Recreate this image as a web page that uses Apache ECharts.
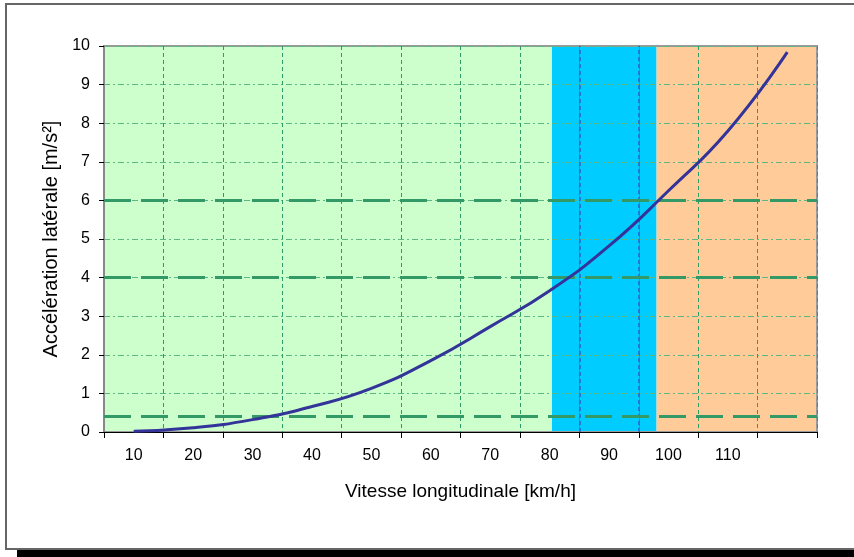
<!DOCTYPE html>
<html>
<head>
<meta charset="utf-8">
<script src="https://cdn.jsdelivr.net/npm/echarts@6/dist/echarts.min.js"></script>
<style>
html,body{margin:0;padding:0;background:#fff;}
#chart{width:854px;height:557px;}
</style>
</head>
<body>
<div id="chart"></div>
<script>
// ---- data ----
var xTickLabels = ['10','20','30','40','50','60','70','80','90','100','110',''];
var speeds = [10, 20, 30, 40, 50, 60, 70, 80, 90, 100, 110, 120];
var lateralAccel = [0.02, 0.11, 0.32, 0.66, 1.13, 1.85, 2.73, 3.66, 4.82, 6.25, 7.8, 9.84];
var thresholds = [0.4, 4, 6];
var bandEdges = [5, 80.4, 98, 125];
var yTicks = [0, 10, 1]; // min, max, interval

var bandColors = ['#ccffcc', '#00ccff', '#ffcc99'];
var FONT = "'Liberation Sans', Arial, sans-serif";

var curveData = speeds.map(function (s, i) { return [s, lateralAccel[i]]; });
var bandData = [];
for (var i = 0; i < bandEdges.length - 1; i++) {
  bandData.push([{ xAxis: bandEdges[i], itemStyle: { color: bandColors[i] } }, { xAxis: bandEdges[i + 1] }]);
}
// category boundaries (grid lines) that fall inside the cyan band are drawn blue
var step = speeds[1] - speeds[0];
var blueGrid = [];
for (var b = bandEdges[0]; b <= bandEdges[bandEdges.length - 1]; b += step) {
  if (b > bandEdges[1] && b < bandEdges[2]) blueGrid.push({ xAxis: b });
}

var chart = echarts.init(document.getElementById('chart'), null, { renderer: 'canvas' });
chart.setOption({
  animation: false,
  backgroundColor: '#fff',
  textStyle: { fontFamily: FONT },
  graphic: [
    { type: 'rect', z: 0, shape: { x: 17, y: 550, width: 860, height: 12 }, style: { fill: '#000' } },
    { type: 'rect', z: 1, shape: { x: 6, y: 4, width: 900, height: 545 }, style: { fill: null, stroke: '#666', lineWidth: 2 } }
  ],
  grid: { left: 104, right: 37, top: 46, bottom: 125, show: true, borderColor: '#9a9a9a', borderWidth: 2, backgroundColor: 'transparent', z: 3 },
  xAxis: [
    {
      type: 'category', data: xTickLabels, boundaryGap: true, z: 3,
      name: 'Vitesse longitudinale [km/h]', nameLocation: 'middle', nameGap: 50,
      nameTextStyle: { fontSize: 19, color: '#000', fontFamily: FONT },
      axisLine: { lineStyle: { color: '#000', width: 1 } },
      axisTick: { show: true, length: 6, lineStyle: { color: '#000' } },
      axisLabel: { fontSize: 16, color: '#000', margin: 16, interval: 0, fontFamily: FONT },
      splitLine: { show: true, lineStyle: { color: '#2f9b66', type: [4, 3], width: 1 } }
    },
    {
      type: 'value', min: bandEdges[0], max: bandEdges[bandEdges.length - 1], show: false
    }
  ],
  yAxis: {
    type: 'value', min: yTicks[0], max: yTicks[1], interval: yTicks[2], z: 3,
    name: 'Accélération latérale [m/s²]', nameLocation: 'middle', nameGap: 39,
    nameTextStyle: { fontSize: 20, color: '#000', fontFamily: FONT },
    axisLine: { show: true, lineStyle: { color: '#888', width: 2 } },
    axisTick: { show: true, length: 5, lineStyle: { color: '#000' } },
    axisLabel: { fontSize: 16, color: '#000', margin: 14, fontFamily: FONT },
    splitLine: { show: true, lineStyle: { color: '#5cb882', type: [6, 3, 2, 3], width: 1 } }
  },
  series: [
    {
      type: 'line', xAxisIndex: 1, data: [], z: 1, silent: true,
      markArea: { silent: true, data: bandData }
    },
    {
      type: 'line', xAxisIndex: 1, data: [], z: 4, silent: true,
      markLine: {
        silent: true, symbol: 'none', label: { show: false },
        lineStyle: { color: '#2f5fc8', width: 1.5, type: [4, 3] },
        data: blueGrid
      }
    },
    {
      type: 'line', xAxisIndex: 1, data: [], z: 4, silent: true,
      markLine: {
        silent: true, symbol: 'none', label: { show: false },
        lineStyle: { color: '#339966', width: 3, type: [27, 10] },
        data: thresholds.map(function (t) { return { yAxis: t }; })
      }
    },
    {
      type: 'line', xAxisIndex: 1, data: curveData, smooth: 0.5, z: 5,
      showSymbol: false, symbol: 'none',
      lineStyle: { color: '#333399', width: 3 }
    }
  ]
});
</script>
</body>
</html>
